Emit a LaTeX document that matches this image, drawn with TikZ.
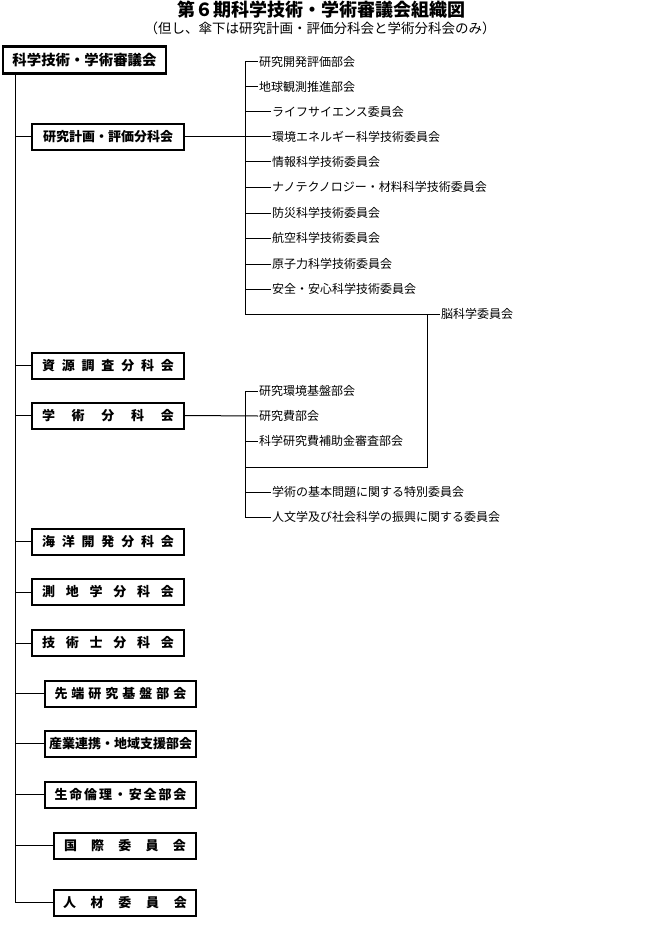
\documentclass[tikz,border=0pt]{standalone}
\usepackage{fontspec}
\setmainfont{Noto Sans CJK JP}
\tikzset{
  conn/.style={line width=1pt},
  boxnode/.style={draw, line width=2pt, minimum height=26pt, inner sep=0pt, font=\bfseries\fontsize{13}{13}\selectfont},
  topbox/.style={draw, line width=2.5pt, minimum height=27pt, inner sep=0pt, font=\bfseries\fontsize{14.4}{14.4}\selectfont},
  item/.style={anchor=west, inner sep=1pt, font=\fontsize{12}{12}\selectfont},
}
\newcommand{\spreadtxt}[2]{\makebox[#1]{#2}}
\begin{document}
\begin{tikzpicture}[x=1pt,y=-1pt]
\useasboundingbox (0,0) rectangle (655,936);
% titles
\node[font=\bfseries\fontsize{18}{18}\selectfont, inner sep=0pt] (title) at (321,10) {第６期科学技術・学術審議会組織図};
\node[font=\fontsize{13.5}{13.5}\selectfont, inner sep=0pt] (subtitle) at (320,28) {（但し、傘下は研究計画・評価分科会と学術分科会のみ）};
% main boxes
\node[topbox, minimum width=163pt] (top) at (84.5,60) {科学技術・学術審議会};
\node[boxnode, minimum width=152pt] (b2) at (108,137) {研究計画・評価分科会};
\node[boxnode, minimum width=152pt] (b3) at (108,365.5) {\spreadtxt{132pt}{資\hfill 源\hfill 調\hfill 査\hfill 分\hfill 科\hfill 会}};
\node[boxnode, minimum width=152pt] (b4) at (108,415.5) {\spreadtxt{132pt}{学\hfill 術\hfill 分\hfill 科\hfill 会}};
\node[boxnode, minimum width=152pt] (b5) at (108,541.5) {\spreadtxt{132pt}{海\hfill 洋\hfill 開\hfill 発\hfill 分\hfill 科\hfill 会}};
\node[boxnode, minimum width=152pt] (b6) at (108,592) {\spreadtxt{132pt}{測\hfill 地\hfill 学\hfill 分\hfill 科\hfill 会}};
\node[boxnode, minimum width=152pt] (b7) at (108,643) {\spreadtxt{132pt}{技\hfill 術\hfill 士\hfill 分\hfill 科\hfill 会}};
\node[boxnode, minimum width=151pt] (b8) at (120.5,693.5) {\spreadtxt{132pt}{先\hfill 端\hfill 研\hfill 究\hfill 基\hfill 盤\hfill 部\hfill 会}};
\node[boxnode, minimum width=151pt] (b9) at (120.5,743.5) {\spreadtxt{134pt}{産業連携・地域支援部会}};
\node[boxnode, minimum width=151pt] (b10) at (120.5,794.5) {\spreadtxt{132pt}{生\hfill 命\hfill 倫\hfill 理\hfill ・\hfill 安\hfill 全\hfill 部\hfill 会}};
\node[boxnode, minimum width=142pt] (b11) at (125,845.5) {\spreadtxt{122pt}{国\hfill 際\hfill 委\hfill 員\hfill 会}};
\node[boxnode, minimum width=142pt] (b12) at (125,902.5) {\spreadtxt{124pt}{人\hfill 材\hfill 委\hfill 員\hfill 会}};
% trunk
\coordinate (mx) at (15,0);
\draw[conn] (top.south -| mx) -- (b12.west -| mx);
\foreach \b in {b2,b3,b4,b5,b6,b7,b8,b9,b10,b11,b12}
  \draw[conn] (\b.west -| mx) -- (\b.west);
% right tree 1
\node[item] (r1) at (258,62) {研究開発評価部会};
\node[item] (r2) at (258,87) {地球観測推進部会};
\node[item] (r3) at (271,112) {ライフサイエンス委員会};
\node[item] (r4) at (271,137) {環境エネルギー科学技術委員会};
\node[item] (r5) at (271,162) {情報科学技術委員会};
\node[item] (r6) at (271,187) {ナノテクノロジー・材料科学技術委員会};
\node[item] (r7) at (271,213) {防災科学技術委員会};
\node[item] (r8) at (271,238) {航空科学技術委員会};
\node[item] (r9) at (271,264) {原子力科学技術委員会};
\node[item] (r10) at (271,289) {安全・安心科学技術委員会};
\node[item] (brain) at (440,314) {脳科学委員会};
\coordinate (ax) at (245,0);
\coordinate (bx) at (427,0);
\coordinate (bend) at (427,467);
\draw[conn] (r1.west -| ax) -- (brain.west -| ax) -- (brain.west);
\foreach \r in {r1,r2,r3,r5,r6,r7,r8,r9,r10}
  \draw[conn] (\r.west -| ax) -- (\r.west);
\draw[conn] (b2.east) -- (r4.west);
\draw[conn] (brain.west -| bx) -- (bend) -- (bend -| ax);
% right tree 2
\node[item] (s1) at (258,391) {研究環境基盤部会};
\node[item] (s2) at (258,416) {研究費部会};
\node[item] (s3) at (258,441) {科学研究費補助金審査部会};
\node[item] (s4) at (271,492) {学術の基本問題に関する特別委員会};
\node[item] (s5) at (271,517) {人文学及び社会科学の振興に関する委員会};
\draw[conn] (s1.west -| ax) -- (s5.west -| ax) -- (s5.west);
\foreach \s in {s1,s3,s4}
  \draw[conn] (\s.west -| ax) -- (\s.west);
\draw[conn] (b4.east) -- (s2.west);
\end{tikzpicture}
\end{document}
